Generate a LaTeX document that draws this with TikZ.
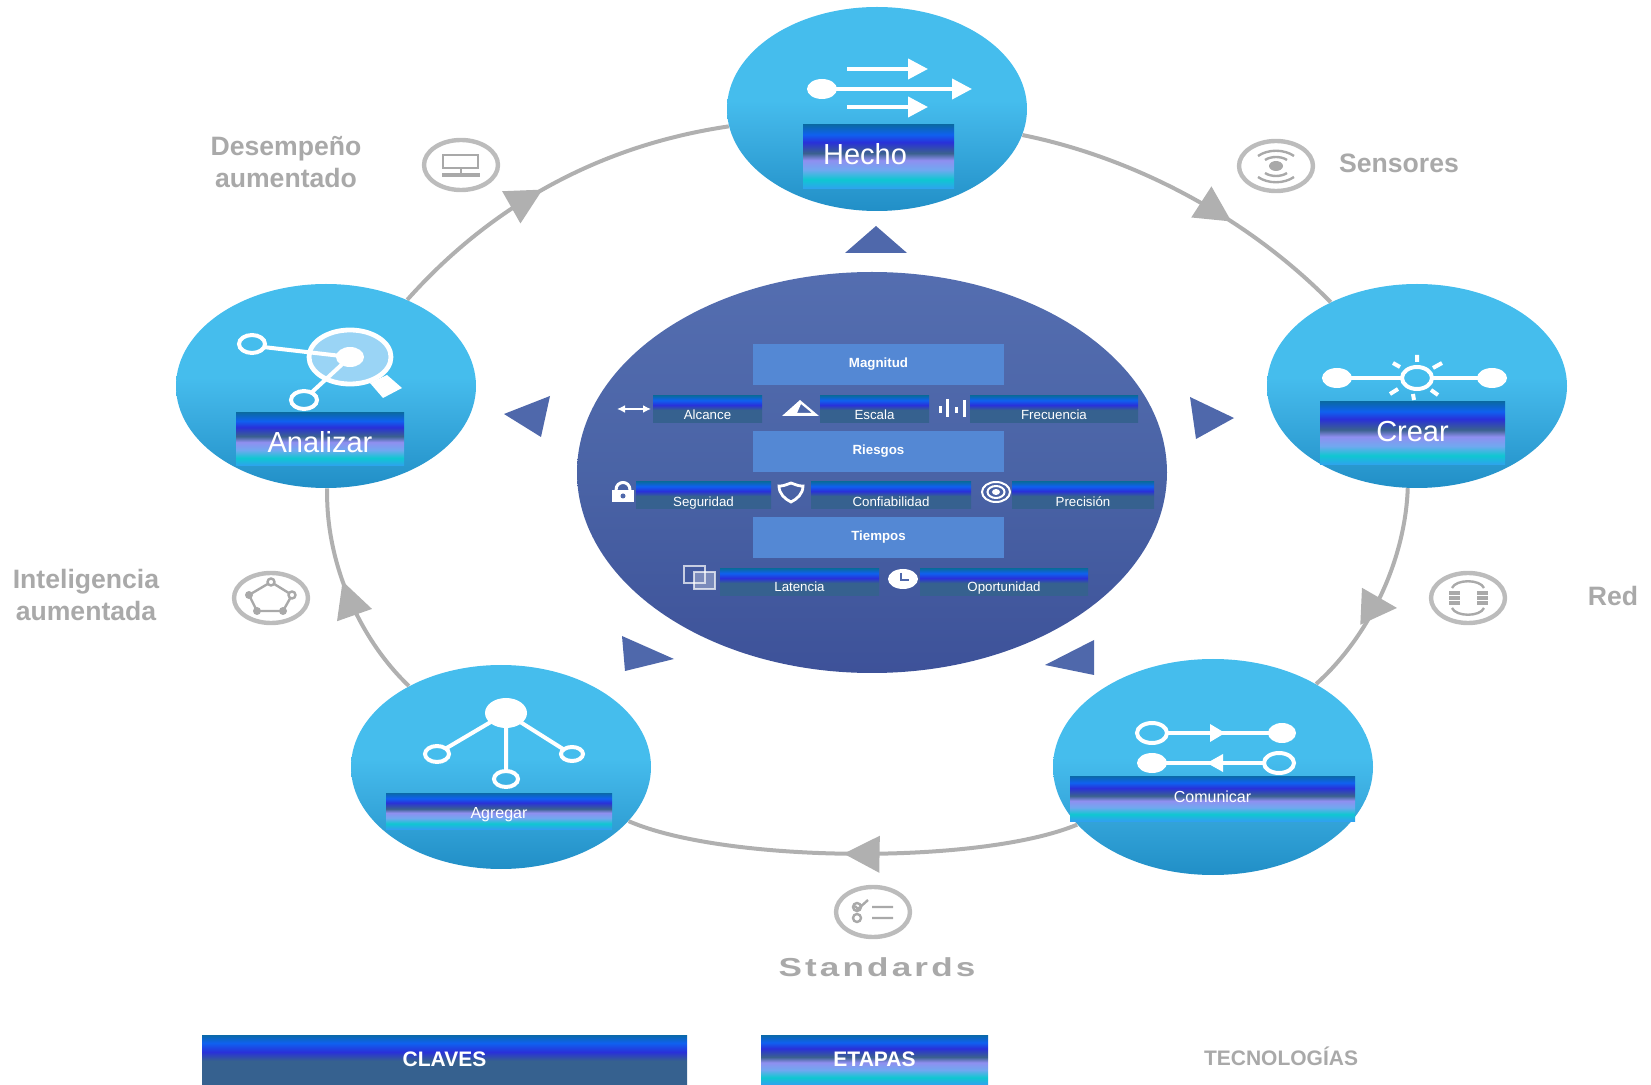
\documentclass[tikz,border=0pt]{standalone}
\usepackage{fontspec}
\setmainfont{Liberation Sans}
\usetikzlibrary{shapes.geometric}
\usetikzlibrary{arrows.meta}
\usetikzlibrary{decorations.markings}

\definecolor{ringgray}{HTML}{B0B0B0}
\definecolor{labelgray}{HTML}{A9A9A9}
\definecolor{pointerblue}{HTML}{4F68AB}
\definecolor{headblue}{HTML}{5488D4}

\pgfdeclareverticalshading{stagefade}{100bp}{
	rgb(0bp)=(.19,.63,.94);
	rgb(25bp)=(.19,.63,.94);
	rgb(32.5bp)=(.06,.78,.82);
	rgb(40bp)=(.44,.66,.94);
	rgb(47.5bp)=(.56,.56,.94);
	rgb(53bp)=(.23,.38,.56);
	rgb(61.5bp)=(.16,.19,.85);
	rgb(67.5bp)=(.06,.38,.94);
	rgb(75bp)=(.04,.41,.66);
	rgb(100bp)=(.04,.41,.66)}
\pgfdeclareverticalshading{keyfade}{100bp}{
	rgb(0bp)=(.21,.38,.56);
	rgb(25bp)=(.21,.38,.56);
	rgb(49bp)=(.21,.38,.56);
	rgb(58bp)=(.16,.19,.85);
	rgb(67bp)=(.06,.38,.94);
	rgb(75bp)=(.04,.41,.66);
	rgb(100bp)=(.04,.41,.66)}
\pgfdeclareverticalshading{stagedisc}{100bp}{
	rgb(0bp)=(.13,.56,.78);
	rgb(25bp)=(.13,.56,.78);
	rgb(45bp)=(.24,.69,.89);
	rgb(52bp)=(.27,.74,.93);
	rgb(75bp)=(.27,.74,.93);
	rgb(100bp)=(.27,.74,.93)}
\pgfdeclareverticalshading{centerdisc}{100bp}{
	rgb(0bp)=(.24,.32,.60);
	rgb(25bp)=(.24,.32,.60);
	rgb(50bp)=(.29,.39,.65);
	rgb(75bp)=(.33,.43,.69);
	rgb(100bp)=(.33,.43,.69)}

\begin{document}
\begin{tikzpicture}[
	x=0.5pt, y=-0.5pt,
	every node/.style={
		inner sep=0,
		align=center
	},
	disc/.style={
		ellipse, shade, shading=stagedisc,
		minimum width=150pt, minimum height=102pt
	},
	stageband/.style={
		rectangle, shade, shading=stagefade, text=white
	},
	keyband/.style={
		rectangle, shade, shading=keyfade, text=white,
		font=\fontsize{6.65}{8}\selectfont,
		text height=12pt, text depth=1.5pt
	},
	headbox/.style={
		rectangle, fill=headblue, text=white,
		minimum width=125.5pt,
		font=\bfseries\fontsize{6.65}{8}\selectfont,
		text height=12pt, text depth=8.5pt
	},
	tech/.style={
		text=labelgray,
		font=\bfseries\fontsize{13.3}{16}\selectfont
	},
	ringline/.style={
		draw=ringgray, line width=2pt,
		decoration={markings, mark=at position #1 with {\arrow{ringtip}}},
		postaction={decorate}
	},
	ringtip/.tip={Triangle[length=18pt,width=18pt]},
	pointer/.style={fill=pointerblue},
	iconring/.style={draw=ringgray!85, line width=2.2pt},
	icongray/.style={draw=labelgray, line width=1.2pt},
	iconwhite/.style={draw=white, line width=2pt},
	flowtip/.tip={Triangle[length=10pt,width=10pt]}
]
\useasboundingbox (0,0) rectangle (1651,1085);

\node[disc] (Hecho) at (877,109) {};
\node[disc] (Crear) at (1417,386) {};
\node[disc, minimum width=160pt, minimum height=108pt] (Comunicar) at (1213,767) {};
\node[disc] (Agregar) at (501,767) {};
\node[disc] (Analizar) at (326,386) {};
\node[ellipse, shade, shading=centerdisc, minimum width=295pt, minimum height=200.5pt] (Center) at (872,472.5) {};

\draw[ringline=.64, looseness=.85] (Hecho) to[bend left=17] (Crear);
\draw[draw=ringgray, line width=2pt, looseness=.85,
	decoration={markings, mark=at position .56 with {\pgftransformrotate{115}\pgftransformxshift{11pt}\arrow{ringtip}}},
	postaction={decorate}] (Crear) to[bend left=23] (Comunicar);
\draw[ringline=.52, looseness=.6] (Comunicar) to[bend left=23] (Agregar);
\draw[ringline=.57, looseness=.85] (Agregar) to[bend left=24] (Analizar);
\draw[ringline=.47, looseness=.9] (Analizar) to[bend left=20] (Hecho);

\fill[pointer] (845,253) -- (907,253) -- (876,226) -- cycle;
\fill[pointer] (1190,397) -- (1234,418) -- (1196,439) -- cycle;
\fill[pointer] (1094,640) -- (1045,665) -- (1094,675) -- cycle;
\fill[pointer] (622,636) -- (674,659) -- (625,671) -- cycle;
\fill[pointer] (550,396) -- (504,414) -- (541,437) -- cycle;

\node[stageband, minimum width=75.5pt, text height=20pt, text depth=12pt, font=\fontsize{14.5}{16}\selectfont] (HechoBand) at (878.5,157) {Hecho\kern13.5pt};
\node[stageband, minimum width=92.5pt, text height=20pt, text depth=11.5pt, font=\fontsize{14.5}{16}\selectfont] (CrearBand) at (1412.5,433.5) {Crear};
\node[stageband, minimum width=142.5pt, text height=13pt, text depth=9.5pt, font=\fontsize{8}{10}\selectfont] (ComunicarBand) at (1212.5,798.5) {Comunicar};
\node[stageband, minimum width=113pt, text height=13pt, text depth=5pt, font=\fontsize{8}{10}\selectfont] (AgregarBand) at (499,811) {Agregar};
\node[stageband, minimum width=84pt, text height=20pt, text depth=6.5pt, font=\fontsize{14.5}{16}\selectfont] (AnalizarBand) at (320,439.5) {Analizar};

\node[headbox] (Magnitud) at (878.5,364.5) {Magnitud};
\node[headbox] (Riesgos) at (878.5,451.5) {Riesgos};
\node[headbox] (Tiempos) at (878.5,537.5) {Tiempos};

\node[keyband, minimum width=54.5pt] (Alcance) at (707.5,409.5) {Alcance};
\node[keyband, minimum width=54.5pt] (Escala) at (874.5,409.5) {Escala};
\node[keyband, minimum width=84pt] (Frecuencia) at (1054,409.5) {Frecuencia};
\node[keyband, minimum width=67.5pt, text height=12.5pt, text depth=1pt] (Seguridad) at (703.5,495.5) {Seguridad};
\node[keyband, minimum width=80pt, text height=12.5pt, text depth=1pt] (Confiabilidad) at (891,495.5) {Confiabilidad};
\node[keyband, minimum width=71pt, text height=12.5pt, text depth=1pt] (Precision) at (1083,495.5) {Precisión};
\node[keyband, minimum width=79.5pt, text height=11.5pt, text depth=2pt] (Latencia) at (799.5,582.5) {Latencia};
\node[keyband, minimum width=84pt, text height=11.5pt, text depth=2pt] (Oportunidad) at (1004,582.5) {Oportunidad};

\node[rectangle, shade, shading=keyfade, text=white, minimum width=242.5pt, text height=15.5pt, text depth=9.5pt, font=\bfseries\fontsize{10.5}{12}\selectfont] (Claves) at (444.5,1060) {CLAVES};
\node[stageband, minimum width=113.5pt, text height=15.5pt, text depth=9.5pt, font=\bfseries\fontsize{10.5}{12}\selectfont] (Etapas) at (874.5,1060) {ETAPAS};
\node[text=labelgray, font=\bfseries\fontsize{10.5}{12}\selectfont] (Tecnologias) at (1281,1056) {TECNOLOGÍAS};

\node[tech] (Desempeno) at (286,162) {Desempeño\\aumentado};
\node[tech] (Sensores) at (1399,163) {Sensores};
\node[tech] (Red) at (1613,596) {Red};
\node[tech] (Inteligencia) at (86,595) {Inteligencia\\aumentada};
\node[text=labelgray, font=\bfseries\fontsize{13}{14}\selectfont] (Standards) at (877,967) {\scalebox{1.35}[1]{\addfontfeature{LetterSpace=9}Standards}};

\draw[iconring] (461,165) ellipse [x radius=37, y radius=25];
\draw[icongray] (443,155) rectangle (478,168) (461,168) -- (461,173);
\draw[icongray, line width=1.8pt] (442,175) -- (480,175);

\draw[iconring] (1276,166) ellipse [x radius=37, y radius=25];
\fill[labelgray] (1276,166) ellipse [x radius=7, y radius=5];
\draw[icongray] (1258,156) .. controls (1268,149) and (1284,149) .. (1294,156);
\draw[icongray] (1265,160) .. controls (1271,156) and (1281,156) .. (1287,160);
\draw[icongray] (1265,173) .. controls (1271,177) and (1281,177) .. (1287,173);
\draw[icongray] (1258,177) .. controls (1268,184) and (1284,184) .. (1294,177);

\draw[iconring] (1468,598) ellipse [x radius=37, y radius=25];
\draw[icongray, line width=1.8pt] (1449,593) -- (1460,593) (1449,598) -- (1460,598) (1449,603) -- (1460,603);
\draw[icongray, line width=1.8pt] (1477,593) -- (1488,593) (1477,598) -- (1488,598) (1477,603) -- (1488,603);
\draw[icongray] (1452,588) .. controls (1456,579) and (1480,579) .. (1484,588);
\draw[icongray] (1452,608) .. controls (1456,617) and (1480,617) .. (1484,608);

\draw[iconring] (873,912) ellipse [x radius=37, y radius=25];
\draw[icongray] (857,907) circle [radius=4] (857,918) circle [radius=4] (872,907) -- (893,907) (872,918) -- (893,918) (855,906) -- (858,909) -- (868,900);

\draw[iconring] (271,598) ellipse [x radius=37, y radius=25];
\draw[icongray] (271,582) -- (292,595) -- (283,611) -- (257,611) -- (249,595) -- cycle;
\fill[labelgray] (283,611) circle [radius=4] (257,611) circle [radius=4] (249,595) circle [radius=4];
\draw[icongray, fill=white] (271,582) circle [radius=3.5] (292,595) circle [radius=3.5];

\draw[iconwhite, -{flowtip}] (847,69) -- (928,69);
\draw[iconwhite, -{flowtip}] (822,89) -- (972,89);
\draw[iconwhite, -{flowtip}] (847,107) -- (928,107);
\fill[white] (822,89) ellipse [x radius=15, y radius=10];

\draw[iconwhite] (1337,378) -- (1401,378) (1433,378) -- (1492,378);
\fill[white] (1337,378) ellipse [x radius=15, y radius=10] (1492,378) ellipse [x radius=15, y radius=10];
\draw[iconwhite] (1417,378) ellipse [x radius=15, y radius=11];
\draw[iconwhite] (1417,355) -- (1417,362) (1393,363) -- (1400,367) (1442,363) -- (1433,368) (1390,394) -- (1398,389) (1438,395) -- (1431,390) (1413,394) -- (1414,400);

\draw[iconwhite] (1167,733) -- (1270,733) (1164,763) -- (1265,763);
\fill[white] (1210,724) -- (1225,733) -- (1210,742) -- cycle (1223,754) -- (1207,763) -- (1223,772) -- cycle;
\draw[iconwhite] (1152,733) ellipse [x radius=15, y radius=10] (1279,763) ellipse [x radius=15, y radius=10];
\fill[white] (1282,733) ellipse [x radius=14, y radius=10] (1152,763) ellipse [x radius=15, y radius=10];

\draw[iconwhite] (506,713) -- (506,771) (506,713) -- (445,749) (506,713) -- (563,749);
\fill[white] (506,713) ellipse [x radius=21, y radius=15];
\draw[iconwhite] (437,754) ellipse [x radius=12, y radius=8] (572,754) ellipse [x radius=11, y radius=7] (506,779) ellipse [x radius=12, y radius=8];

\fill[white] (370,383) -- (383,398) -- (402,388) -- (387,375) -- cycle;
\draw[iconwhite, fill={rgb,255:red,154;green,212;blue,245}, line width=2.4pt] (350,357) ellipse [x radius=41, y radius=27];
\draw[iconwhite] (263,347) -- (350,357) (311,393) -- (350,357);
\fill[white] (350,357) ellipse [x radius=14, y radius=10];
\draw[iconwhite] (252,344) ellipse [x radius=13, y radius=9] (304,400) ellipse [x radius=13, y radius=9];

\draw[iconwhite, line width=1.4pt, {Latex[length=4pt,width=4pt]}-{Latex[length=4pt,width=4pt]}] (617,409) -- (651,409);
\fill[white, even odd rule] (782,416) -- (800,400) -- (819,416) -- cycle (797,413) -- (812,413) -- (801,404) -- cycle;
\draw[iconwhite, line width=1.5pt] (940,406) -- (940,413) (947,399) -- (947,417) (956,407) -- (956,413) (964,400) -- (964,417);
\fill[white] (612,490) rectangle (634,502);
\draw[iconwhite, line width=1.5pt] (616,490) .. controls (616,480) and (630,480) .. (630,490);
\fill[pointerblue] (623,496) circle [radius=2.5];
\draw[iconwhite, line width=1.4pt] (779,486) .. controls (787,486) and (788,483) .. (791,483) .. controls (794,483) and (795,486) .. (803,486) .. controls (803,494) and (797,499) .. (791,502) .. controls (785,499) and (779,494) .. (779,486) -- cycle;
\draw[iconwhite, line width=1pt] (996,492) ellipse [x radius=14, y radius=10] (996,492) ellipse [x radius=8.5, y radius=6];
\fill[white] (996,492) ellipse [x radius=4, y radius=3];
\draw[iconwhite, line width=1pt, draw opacity=.7] (684,566) rectangle (705,583);
\draw[iconwhite, line width=1pt, draw opacity=.7, fill=white, fill opacity=.3] (694,572) rectangle (715,589);
\fill[white] (903,579) ellipse [x radius=15, y radius=10];
\draw[draw=pointerblue, line width=1pt] (901,573) -- (901,580) -- (909,580);
\end{tikzpicture}
\end{document}
